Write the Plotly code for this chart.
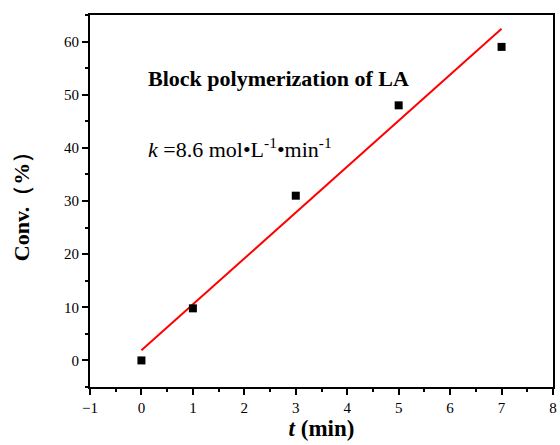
import plotly.graph_objects as go

t_min = [0, 1, 3, 5, 7]
conv_pct = [0, 9.8, 31, 48, 59]
fit_t = [0, 7]
fit_conv = [1.9, 62.4]
x_ticks = [-1, 0, 1, 2, 3, 4, 5, 6, 7, 8]
y_ticks = [0, 10, 20, 30, 40, 50, 60]

FONT = "Liberation Serif"

fig = go.Figure()
fig.add_trace(go.Scatter(x=fit_t, y=fit_conv, mode="lines",
                         line=dict(color="#ff0000", width=2), showlegend=False))
fig.add_trace(go.Scatter(x=t_min, y=conv_pct, mode="markers",
                         marker=dict(symbol="square", size=8, color="black"),
                         showlegend=False))

axis_common = dict(showgrid=False, zeroline=False, showline=True, linecolor="black",
                   linewidth=2, mirror=True, ticks="outside", tickcolor="black",
                   tickwidth=2, ticklen=6, tickfont=dict(family=FONT, size=15, color="black"),
                   minor=dict(ticks="outside", ticklen=3, tickwidth=2, tickcolor="black"))

fig.update_xaxes(range=[-1, 8], tickvals=x_ticks, **axis_common,
                 title=dict(text="<b><i>t</i> (min)</b>", font=dict(family=FONT, size=23, color="black"),
                            standoff=4))
fig.update_xaxes(minor_dtick=0.5)
fig.update_yaxes(range=[-5, 65], tickvals=y_ticks, **axis_common,
                 title=dict(text="<b>Conv.（%）</b>", font=dict(family=FONT, size=22, color="black"),
                            standoff=28))
fig.update_yaxes(minor_dtick=5)

fig.add_annotation(x=0.08, y=53, xref="x", yref="y", xanchor="left", yanchor="middle",
                   text="<b>Block polymerization of LA</b>", showarrow=False,
                   font=dict(family=FONT, size=22, color="black"))
fig.add_annotation(x=0.08, y=40, xref="x", yref="y", xanchor="left", yanchor="middle",
                   text="<i>k</i> =8.6 mol•L<sup>-1</sup>•min<sup>-1</sup>", showarrow=False,
                   font=dict(family=FONT, size=22, color="black"))

fig.update_layout(width=560, height=445, margin=dict(l=90, r=3, t=15, b=58),
                  plot_bgcolor="white", paper_bgcolor="white")
fig.write_html("out.html")
